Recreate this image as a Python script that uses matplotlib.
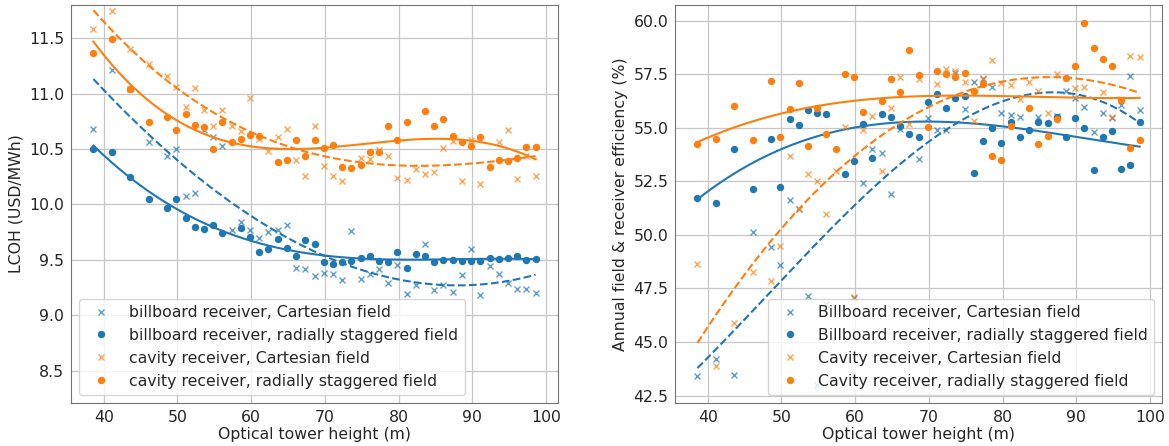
import matplotlib.pyplot as plt
import numpy as np

nan = np.nan

# === Tower heights (m) ===
height = [38.6, 41.1, 43.6, 46.1, 48.6, 49.85, 51.1, 52.35, 53.6, 54.85,
          56.1, 57.35, 58.6, 59.85, 61.1, 62.35, 63.6, 64.85, 66.1, 67.35,
          68.6, 69.85, 71.1, 72.35, 73.6, 74.85, 76.1, 77.35, 78.6, 79.85,
          81.1, 82.35, 83.6, 84.85, 86.1, 87.35, 88.6, 89.85, 91.1, 92.35,
          93.6, 94.85, 96.1, 97.35, 98.6]

# === LCOH (USD/MWh) ===
lcoh_bb_cart = [10.68, 11.21, 11.04, 10.56, 10.44, 10.50, 10.08, 10.10, 10.67, 10.61,
                10.53, 9.77, 9.84, 9.77, 9.70, 9.75, 9.77, 9.81, 9.43, 9.42,
                9.35, 9.38, 9.37, 9.32, 9.76, 9.33, 9.37, 9.42, 9.29, 9.45,
                9.19, 9.27, 9.64, 9.23, 9.27, 9.21, 9.36, 9.60, 9.18, 9.44,
                9.37, 9.29, 9.24, 9.24, 9.20]
lcoh_bb_rad = [10.50, 10.47, 10.25, 10.05, 9.97, 10.05, 9.88, 9.80, 9.78, 9.81,
               9.74, nan, 9.79, 9.71, 9.57, 9.60, 9.69, 9.61, 9.53, 9.68,
               9.64, 9.48, 9.46, 9.48, 9.49, 9.52, 9.53, 9.49, 9.48, 9.57,
               9.43, 9.55, 9.53, 9.48, 9.50, 9.50, 9.49, 9.49, 9.49, 9.52,
               9.51, 9.52, 9.53, 9.50, 9.51]
lcoh_cav_cart = [11.58, 11.75, 11.40, 11.27, 11.16, 11.06, 10.88, 11.05, 10.85, 10.71,
                 10.85, 10.71, 10.66, 10.96, 10.59, 10.48, 10.61, 10.68, 10.40, 10.26,
                 10.71, 10.35, 10.26, 10.21, nan, 10.42, 10.41, 10.49, 10.44, 10.24,
                 10.22, 10.32, 10.27, 10.29, 10.51, 10.57, 10.21, 10.58, 10.18, nan,
                 10.56, 10.67, 10.23, 10.44, 10.26]
lcoh_cav_rad = [11.37, 11.49, 11.04, 10.74, 10.79, 10.67, 10.82, 10.72, 10.70, 10.50,
                10.74, 10.56, 10.59, 10.63, 10.62, nan, 10.38, 10.40, 10.58, 10.44,
                10.58, 10.51, 10.54, 10.34, 10.33, 10.36, 10.47, 10.47, 10.71, 10.58,
                10.74, nan, 10.84, 10.71, 10.77, 10.62, 10.56, 10.53, 10.61, 10.34,
                10.40, 10.39, 10.42, 10.52, 10.52]

# === Annual field & receiver efficiency (%) ===
eff_bb_cart = [43.41, 44.22, 43.47, 50.14, 49.44, 48.61, 51.62, 51.20, 47.16, 42.99,
               46.78, nan, nan, 47.05, 52.40, 53.99, 53.80, 51.93, 54.95, nan,
               53.52, 55.44, 54.89, 54.89, 57.54, 55.89, 57.12, 57.29, 56.88, 55.67,
               55.59, 55.51, nan, 55.51, nan, 55.55, 56.73, 56.40, 55.98, 54.80,
               55.70, 55.47, 56.06, 57.41, 55.83]
eff_bb_rad = [51.70, 51.48, 54.02, 52.13, 54.47, 52.24, 55.42, 55.12, 55.83, 55.69,
              55.64, nan, 52.85, 53.43, 55.17, 53.61, 55.62, 55.50, 55.09, 54.69,
              54.58, 56.20, 56.57, 55.90, 56.40, 56.48, 52.91, 54.39, 54.98, 54.27,
              55.26, 54.58, 54.91, 55.26, 55.20, 55.51, 54.58, 55.45, 54.98, 53.05,
              54.58, 54.86, 53.08, 53.24, 55.26]
eff_cav_cart = [48.63, 43.88, 45.87, 48.27, 47.83, 49.49, 53.69, 51.23, 52.85, 52.51,
                50.97, 52.99, 55.05, 47.10, 54.88, 55.56, 52.98, 55.93, 57.35, 55.19,
                57.29, nan, 57.02, 57.74, 57.65, 57.13, 55.33, 57.32, 58.16, 57.10,
                56.98, 56.36, 57.13, 56.70, 55.70, 57.49, nan, 56.87, 56.88, nan,
                56.68, 55.51, 56.32, 58.35, 58.32]
eff_cav_rad = [54.24, 54.47, 56.01, 54.42, 57.20, 54.58, 55.87, 57.09, 54.17, 55.93,
               54.72, 54.02, 57.49, 57.38, 55.72, nan, 56.25, 57.27, 56.68, 58.63,
               57.46, 55.02, 57.65, 57.49, 57.38, 57.57, 56.71, 57.02, 53.66, 53.50,
               55.08, nan, 55.93, 54.22, 54.61, 55.39, 57.31, 57.87, 59.89, 58.74,
               58.19, 57.87, 56.29, 54.07, 54.42]

labels_lcoh = ["billboard receiver, Cartesian field",
               "billboard receiver, radially staggered field",
               "cavity receiver, Cartesian field",
               "cavity receiver, radially staggered field"]
labels_eff = ["Billboard receiver, Cartesian field",
              "Billboard receiver, radially staggered field",
              "Cavity receiver, Cartesian field",
              "Cavity receiver, radially staggered field"]

plt.rcParams["font.size"] = 11.3
plt.rcParams["text.color"] = "0.15"
plt.rcParams["axes.labelcolor"] = "0.15"
plt.rcParams["xtick.color"] = "0.15"
plt.rcParams["ytick.color"] = "0.15"

h = np.array(height)
h_fine = np.linspace(h.min(), h.max(), 200)


def draw(ax, series, labels):
    styles = [("C0", "x", "--"), ("C0", "o", "-"), ("C1", "x", "--"), ("C1", "o", "-")]
    for vals, lab, (col, mk, ls) in zip(series, labels, styles):
        y = np.array(vals)
        ok = ~np.isnan(y)
        alpha = 0.7 if mk == "x" else 1.0
        ax.plot(h[ok], y[ok], mk, color=col, ms=4.3, mew=1.0, alpha=alpha,
                linestyle="none", label=lab)
        # cubic trend line through the points
        coef = np.polyfit(h[ok], y[ok], 3)
        ax.plot(h_fine, np.polyval(coef, h_fine), ls, color=col, lw=1.5)
    ax.grid(True, color="0.78", lw=0.9)
    ax.set_axisbelow(True)
    for s in ax.spines.values():
        s.set_color("0.45")
    ax.tick_params(length=0, pad=5)
    ax.set_xlim(35.6, 101.6)
    ax.set_xlabel("Optical tower height (m)", labelpad=2)


fig = plt.figure(figsize=(11.69, 4.46), dpi=100)
ax1 = fig.add_axes([0.0610, 0.0971, 0.4161, 0.8917])
ax2 = fig.add_axes([0.5777, 0.0971, 0.4161, 0.8917])

draw(ax1, [lcoh_bb_cart, lcoh_bb_rad, lcoh_cav_cart, lcoh_cav_rad], labels_lcoh)
ax1.set_ylim(8.21, 11.80)
ax1.set_yticks([8.5, 9.0, 9.5, 10.0, 10.5, 11.0, 11.5])
ax1.set_ylabel("LCOH (USD/MWh)")
ax1.legend(loc="lower left")

draw(ax2, [eff_bb_cart, eff_bb_rad, eff_cav_cart, eff_cav_rad], labels_eff)
ax2.set_ylim(42.17, 60.73)
ax2.set_yticks([42.5, 45.0, 47.5, 50.0, 52.5, 55.0, 57.5, 60.0])
ax2.set_ylabel("Annual field & receiver efficiency (%)")
ax2.legend(loc="lower right")

fig.savefig("out.png", dpi=100)
